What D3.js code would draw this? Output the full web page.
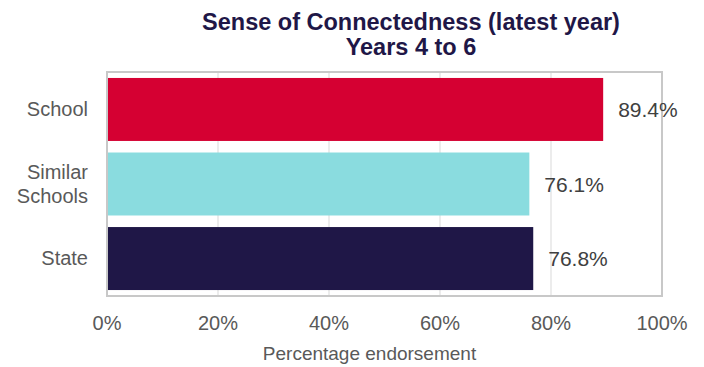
<!DOCTYPE html>
<html>
<head>
<meta charset="utf-8">
<script src="https://cdn.jsdelivr.net/npm/d3@7"></script>
<style>
  body { margin: 0; background: #fff; }
  text { font-family: "Liberation Sans", Arial, sans-serif; }
</style>
</head>
<body>
<div id="chart"></div>
<script>
const categories = ["School", "Similar Schools", "State"]
const values = [89.4, 76.1, 76.8]
const colors = ["#D50032", "#8ADCDF", "#1F1747"]
const tick_values = [0, 20, 40, 60, 80, 100]

const width = 704, height = 367
const margin = {top: 72, right: 42, bottom: 71, left: 107}
const plot_w = width - margin.left - margin.right
const plot_h = height - margin.top - margin.bottom

const svg = d3.select("#chart").append("svg")
    .attr("width", width)
    .attr("height", height)

const g = svg.append("g")
    .attr("transform", "translate(" + margin.left + "," + margin.top + ")")

let x = d3.scaleLinear().domain([0, 100]).range([0, plot_w])
let y = d3.scaleBand().domain(categories).range([0, plot_h]).paddingInner(0.155).paddingOuter(0.08)

// gridlines
g.append("g")
    .selectAll("line")
    .data(tick_values)
    .enter()
    .append("line")
    .attr("x1", d => x(d))
    .attr("x2", d => x(d))
    .attr("y1", 0)
    .attr("y2", plot_h)
    .attr("stroke", "#d9d9d9")
    .attr("stroke-width", 1)

// bars
g.append("g")
    .selectAll("rect")
    .data(categories)
    .enter()
    .append("rect")
    .attr("x", x(0) + 1)
    .attr("y", d => y(d))
    .attr("width", (d, i) => x(values[i]) - x(0) - 1)
    .attr("height", y.bandwidth())
    .attr("fill", (d, i) => colors[i])

// frame
g.append("rect")
    .attr("x", 0)
    .attr("y", 0)
    .attr("width", plot_w)
    .attr("height", plot_h)
    .attr("fill", "none")
    .attr("stroke", "#c8c8c8")
    .attr("stroke-width", 2)

// value labels
g.append("g")
    .selectAll("text")
    .data(categories)
    .enter()
    .append("text")
    .attr("x", (d, i) => x(values[i]) + 15)
    .attr("y", d => y(d) + y.bandwidth() / 2 + 7.5)
    .attr("font-size", 21)
    .attr("fill", "#404040")
    .text((d, i) => values[i].toFixed(1) + "%")

// category labels
const cat_labels = g.append("g")
    .selectAll("text")
    .data(categories)
    .enter()
    .append("text")
    .attr("text-anchor", "end")
    .attr("font-size", 20)
    .attr("fill", "#595959")
    .attr("transform", d => "translate(-19," + (y(d) + y.bandwidth() / 2) + ")")

cat_labels.each(function(d) {
    const words = d.split(" ")
    const el = d3.select(this)
    words.forEach((w, k) => {
        el.append("tspan")
            .attr("x", 0)
            .attr("y", (k - (words.length - 1) / 2) * 24 + 6.5)
            .text(w)
    })
})

// x tick labels
g.append("g")
    .selectAll("text")
    .data(tick_values)
    .enter()
    .append("text")
    .attr("x", d => x(d))
    .attr("y", plot_h + 34)
    .attr("text-anchor", "middle")
    .attr("font-size", 20)
    .attr("fill", "#595959")
    .text(d => d + "%")

// x axis title
g.append("text")
    .attr("x", plot_w / 2 - 15)
    .attr("y", plot_h + 64)
    .attr("text-anchor", "middle")
    .attr("font-size", 19)
    .attr("fill", "#595959")
    .text("Percentage endorsement")

// title
const title = svg.append("text")
    .attr("text-anchor", "middle")
    .attr("font-size", 23.5)
    .attr("font-weight", "bold")
    .attr("fill", "#1F1747")
title.append("tspan").attr("x", 411).attr("y", 30).text("Sense of Connectedness (latest year)")
title.append("tspan").attr("x", 411).attr("y", 55).text("Years 4 to 6")
</script>
</body>
</html>
